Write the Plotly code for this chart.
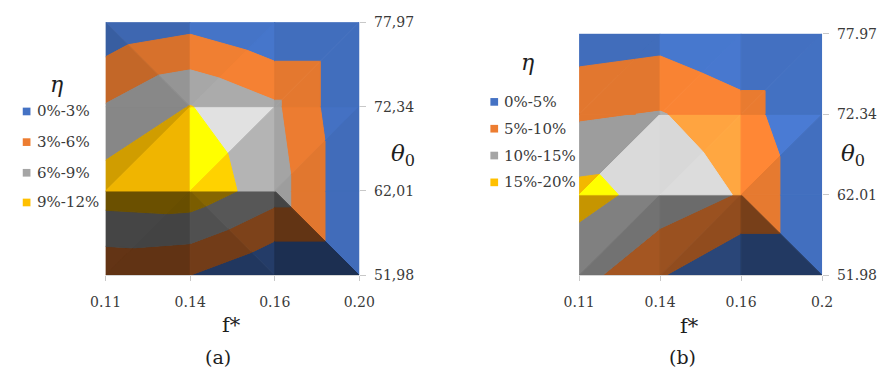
import numpy as np
import plotly.graph_objects as go

# ---- data -----------------------------------------------------------------
F_STAR_A = ["0.11", "0.14", "0.16", "0.20"]
F_STAR_B = ["0.11", "0.14", "0.16", "0.2"]
THETA_A = ["51,98", "62,01", "72,34", "77,97"]
THETA_B = ["51.98", "62.01", "72.34", "77.97"]

# efficiency eta (%) ; rows: theta0 = 51.98, 62.01, 72.34, 77.97 ; columns: f*
ETA_A = [
    [3.6, 3.0, 0.0, 0.0],
    [10.6, 11.0, 7.4, 0.0],
    [6.2, 9.1, 6.5, 0.0],
    [0.8, 2.0, 0.0, 0.0],
]
ETA_B = [
    [11.9, 5.4, 0.0, 0.0],
    [16.6, 13.3, 9.6, 0.0],
    [9.3, 10.3, 7.1, 0.0],
    [2.0, 3.0, 0.0, 0.0],
]

BAND_EDGES_A = [0, 3, 6, 9, 12]
BAND_EDGES_B = [0, 5, 10, 15, 20]
BAND_LABELS_A = ["0%-3%", "3%-6%", "6%-9%", "9%-12%"]
BAND_LABELS_B = ["0%-5%", "5%-10%", "10%-15%", "15%-20%"]
BAND_COLORS = ["#4472C4", "#ED7D31", "#A5A5A5", "#FFC000"]

# ---- shading of the surface facets ---------------------------------------
W, H = 894, 381
K_SLOPE = 1.8


def unit(v):
    v = np.asarray(v, float)
    return v / np.linalg.norm(v)


LIGHT = unit([0.45, 0.45, 0.77])
HILITE = unit([0.33, 0.245, 0.91])
AMB, DIF, SPEC, POW = 0.27, 0.80, 0.33, 80


def facet_factor(tri, zmax):
    (x0, y0, v0), (x1, y1, v1), (x2, y2, v2) = tri
    a = np.array([[x1 - x0, y1 - y0], [x2 - x0, y2 - y0]], float)
    b = np.array([v1 - v0, v2 - v0], float)
    gx, gy = np.linalg.solve(a, b)
    n = unit([-K_SLOPE * gx / zmax, -K_SLOPE * gy / zmax, 1.0])
    return AMB + DIF * max(n @ LIGHT, 0.0) + SPEC * max(n @ HILITE, 0.0) ** POW


def tint(hex_color, f):
    rgb = [int(hex_color[i:i + 2], 16) for i in (1, 3, 5)]
    return "rgb(%d,%d,%d)" % tuple(min(255, int(round(c * f))) for c in rgb)


def cut(pts, dist):
    out = []
    for i in range(len(pts)):
        p, q = pts[i], pts[(i + 1) % len(pts)]
        dp, dq = dist(p[2]), dist(q[2])
        if dp >= 0:
            out.append(p)
        if (dp >= 0) != (dq >= 0):
            t = dp / (dp - dq)
            out.append(tuple(p[k] + t * (q[k] - p[k]) for k in range(3)))
    return out


def band_polygon(tri, lo, hi):
    pts = cut(list(tri), lambda v: v - lo)
    if pts:
        pts = cut(pts, lambda v: hi - v)
    return pts


def area(pts):
    s = 0.0
    for i in range(len(pts)):
        x0, y0 = pts[i][0], pts[i][1]
        x1, y1 = pts[(i + 1) % len(pts)][0], pts[(i + 1) % len(pts)][1]
        s += x0 * y1 - x1 * y0
    return abs(s) / 2


def add_surface(fig, eta, edges, xa, ya):
    z = np.asarray(eta, float)
    zmax = edges[-1]
    nb = len(BAND_COLORS)
    for r in range(z.shape[0] - 1):
        for c in range(z.shape[1] - 1):
            bl = (c, r, z[r, c])
            br = (c + 1, r, z[r, c + 1])
            tl = (c, r + 1, z[r + 1, c])
            tr = (c + 1, r + 1, z[r + 1, c + 1])
            if bl[2] + tr[2] >= tl[2] + br[2]:
                tris = [(tl, tr, bl), (bl, br, tr)]
            else:
                tris = [(tl, tr, br), (tl, bl, br)]
            for tri in tris:
                f = facet_factor(tri, zmax)
                for k in range(nb):
                    lo = -np.inf if k == 0 else edges[k]
                    hi = np.inf if k == nb - 1 else edges[k + 1]
                    poly = band_polygon(tri, lo, hi)
                    if len(poly) < 3 or area(poly) < 1e-6:
                        continue
                    col = tint(BAND_COLORS[k], f)
                    fig.add_trace(go.Scatter(
                        x=[p[0] for p in poly] + [poly[0][0]],
                        y=[p[1] for p in poly] + [poly[0][1]],
                        mode="lines", fill="toself", fillcolor=col,
                        line=dict(color=col, width=1),
                        hoverinfo="skip", showlegend=False,
                        xaxis=xa, yaxis=ya))


fig = go.Figure()
add_surface(fig, ETA_A, BAND_EDGES_A, "x", "y")
add_surface(fig, ETA_B, BAND_EDGES_B, "x2", "y2")

# ---- axes -----------------------------------------------------------------
SERIF = "DejaVu Serif"
TICK_FONT = dict(family=SERIF, size=14, color="#3a3a3a")


def dom_x(a, b):
    return [a / W, b / W]


def dom_y(top, bottom):
    return [1 - bottom / H, 1 - top / H]


def xaxis(domain, labels, anchor):
    return dict(domain=domain, range=[0, 3], tickvals=list(range(len(labels))),
                ticktext=labels, ticks="outside", ticklen=5, tickcolor="#c8c8c8",
                showline=True, linecolor="#d6d6d6", linewidth=1,
                showgrid=False, zeroline=False, tickfont=TICK_FONT,
                ticklabelstandoff=9, anchor=anchor, fixedrange=True)


def yaxis(domain, labels, anchor):
    return dict(domain=domain, range=[0, 3], tickvals=list(range(len(labels))),
                ticktext=labels, side="right", ticks="outside", ticklen=6,
                tickcolor="#c8c8c8", showline=False, showgrid=False,
                zeroline=False, tickfont=TICK_FONT, ticklabelstandoff=5,
                anchor=anchor, fixedrange=True)


fig.update_layout(
    width=W, height=H,
    margin=dict(l=0, r=0, t=0, b=0),
    paper_bgcolor="white", plot_bgcolor="white",
    showlegend=False,
    font=dict(family=SERIF),
    xaxis=xaxis(dom_x(93, 356), F_STAR_A, "y"),
    yaxis=yaxis(dom_y(15, 279), THETA_A, "x"),
    xaxis2=xaxis(dom_x(584, 836), F_STAR_B, "y2"),
    yaxis2=yaxis(dom_y(27, 279), THETA_B, "x2"),
)

# ---- titles, panel labels and band keys ----------------------------------
def text(x, y, s, size, anchor="center", color="#1e1e1e"):
    fig.add_annotation(x=x / W, y=1 - y / H, xref="paper", yref="paper",
                       text=s, showarrow=False, xanchor=anchor, yanchor="middle",
                       font=dict(family=SERIF, size=size, color=color))


text(224, 331, "f*", 21)
text(210, 364, "(a)", 19)
text(401, 153, "<i>θ</i><sub>0</sub>", 23)
text(699, 332, "f*", 21)
text(691, 364, "(b)", 19)
text(868, 153, "<i>θ</i><sub>0</sub>", 23)
text(42, 80, "<i>η</i>", 22)
text(530, 57, "<i>η</i>", 22)

KEY_A = [(11, 20, y) for y in (108, 140, 172, 203)]
KEY_B = [(496, 504, y) for y in (98, 126, 154, 182)]
for keys, labels in ((KEY_A, BAND_LABELS_A), (KEY_B, BAND_LABELS_B)):
    for (sx, tx, y), lab, col in zip(keys, labels, BAND_COLORS):
        fig.add_shape(type="rect", xref="paper", yref="paper",
                      x0=(sx - 4) / W, x1=(sx + 4) / W,
                      y0=1 - (y + 4) / H, y1=1 - (y - 4) / H,
                      fillcolor=col, line=dict(width=0))
        text(tx, y, lab, 15, anchor="left", color="#3a3a3a")

fig.write_html("out.html")
